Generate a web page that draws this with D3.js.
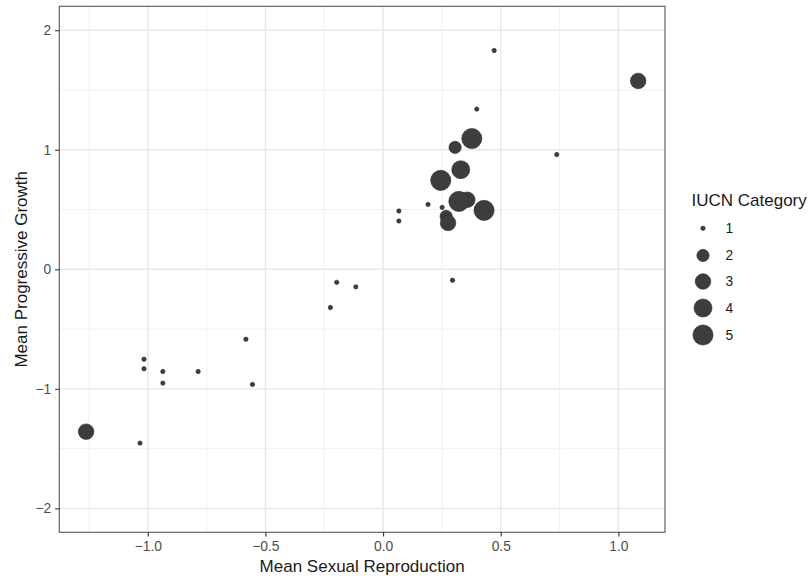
<!DOCTYPE html>
<html>
<head>
<meta charset="utf-8">
<script src="https://cdn.jsdelivr.net/npm/d3@7"></script>
<style>
  body { margin: 0; background: #fff; }
  svg { display: block; font-family: "Liberation Sans", Arial, Helvetica, sans-serif; }
</style>
</head>
<body>
<svg id="chart" width="810" height="576"></svg>
<script>
// ---- data ----
const sexualReproduction = [0.472, 1.084, 0.398, 0.377, 0.306, 0.738, 0.330, 0.245, 0.358, 0.322, 0.429, 0.191, 0.251, 0.067, 0.067, 0.268, 0.276, -0.197, -0.116, -0.224, 0.295, -1.016, -1.016, -0.936, -0.936, -0.786, -0.583, -0.555, -1.262, -1.033];
const progressiveGrowth  = [1.830, 1.576, 1.340, 1.094, 1.020, 0.960, 0.833, 0.744, 0.582, 0.568, 0.493, 0.543, 0.518, 0.488, 0.404, 0.443, 0.388, -0.109, -0.147, -0.320, -0.092, -0.752, -0.832, -0.855, -0.952, -0.855, -0.585, -0.963, -1.358, -1.454];
const iucnCategory       = [1, 3, 1, 5, 2, 1, 4, 5, 3, 5, 5, 1, 1, 1, 1, 2, 3, 1, 1, 1, 1, 1, 1, 1, 1, 1, 1, 1, 3, 1];
const legendCategories   = [1, 2, 3, 4, 5];
const xTicks = [-1.0, -0.5, 0.0, 0.5, 1.0];
const xMinorTicks = [-1.25, -0.75, -0.25, 0.25, 0.75];
const yTicks = [-2, -1, 0, 1, 2];
const yMinorTicks = [-1.5, -0.5, 0.5, 1.5];

const points = sexualReproduction.map((x, i) => ({x, y: progressiveGrowth[i], c: iucnCategory[i]}));

// ---- layout ----
const svg = d3.select("#chart");
const panel = {left: 59.3, right: 665, top: 6.3, bottom: 532.3};

const x = d3.scaleLinear().domain([-1.376, 1.198]).range([panel.left, panel.right]);
const y = d3.scaleLinear().domain([-2.2, 2.2]).range([panel.bottom, panel.top]);
// ggplot-like area size scale: size = 1 + 5*sqrt(rescaled value)
const sizeScale = d3.scaleSqrt().domain([0, 4]).range([0, 5]);
const radius = v => (1 + sizeScale(v - 1)) * 1.58 + 0.6;

const g = svg.append("g");

// panel background
g.append("rect").attr("x", panel.left).attr("y", panel.top)
  .attr("width", panel.right - panel.left).attr("height", panel.bottom - panel.top)
  .attr("fill", "#fff");

// minor grid
g.selectAll(".xminor").data(xMinorTicks).join("line")
  .attr("x1", d => x(d)).attr("x2", d => x(d))
  .attr("y1", panel.top).attr("y2", panel.bottom)
  .attr("stroke", "#ebebeb").attr("stroke-width", 0.7);
g.selectAll(".yminor").data(yMinorTicks).join("line")
  .attr("y1", d => y(d)).attr("y2", d => y(d))
  .attr("x1", panel.left).attr("x2", panel.right)
  .attr("stroke", "#ebebeb").attr("stroke-width", 0.7);
// major grid
g.selectAll(".xmajor").data(xTicks).join("line")
  .attr("x1", d => x(d)).attr("x2", d => x(d))
  .attr("y1", panel.top).attr("y2", panel.bottom)
  .attr("stroke", "#e8e8e8").attr("stroke-width", 1.4);
g.selectAll(".ymajor").data(yTicks).join("line")
  .attr("y1", d => y(d)).attr("y2", d => y(d))
  .attr("x1", panel.left).attr("x2", panel.right)
  .attr("stroke", "#e8e8e8").attr("stroke-width", 1.4);

// points
g.selectAll("circle.pt").data(points).join("circle")
  .attr("class", "pt")
  .attr("cx", d => x(d.x)).attr("cy", d => y(d.y))
  .attr("r", d => radius(d.c))
  .attr("fill", "#3d3d3d").attr("stroke", "#2a2a2a").attr("stroke-width", 0.6);

// panel border
g.append("rect").attr("x", panel.left).attr("y", panel.top)
  .attr("width", panel.right - panel.left).attr("height", panel.bottom - panel.top)
  .attr("fill", "none").attr("stroke", "#555").attr("stroke-width", 1.1);

// axes
const xAxis = d3.axisBottom(x).tickValues(xTicks).tickFormat(d3.format(".1f"))
  .tickSize(4.2).tickPadding(4.5);
const yAxis = d3.axisLeft(y).tickValues(yTicks).tickFormat(d3.format("d"))
  .tickSize(4.2).tickPadding(4);

const gx = svg.append("g").attr("transform", `translate(0,${panel.bottom})`).call(xAxis);
const gy = svg.append("g").attr("transform", `translate(${panel.left},0)`).call(yAxis);
[gx, gy].forEach(a => {
  a.select(".domain").remove();
  a.selectAll(".tick line").attr("stroke", "#333").attr("stroke-width", 1.1);
  a.selectAll(".tick text").attr("fill", "#4d4d4d")
    .style("font-size", "13.8px").style("font-family", "'Liberation Sans', Arial, sans-serif");
});

// axis titles
svg.append("text").attr("x", (panel.left + panel.right) / 2).attr("y", 572)
  .attr("text-anchor", "middle").style("font-size", "17px").attr("fill", "#1a1a1a")
  .text("Mean Sexual Reproduction");
svg.append("text")
  .attr("transform", `translate(27,${(panel.top + panel.bottom) / 2}) rotate(-90)`)
  .attr("text-anchor", "middle").style("font-size", "17px").attr("fill", "#1a1a1a")
  .text("Mean Progressive Growth");

// legend
const legend = svg.append("g");
legend.append("text").attr("x", 691.5).attr("y", 206)
  .style("font-size", "17px").attr("fill", "#1a1a1a").text("IUCN Category");
const legendY = [228.3, 255.5, 281.5, 308, 335];
const rows = legend.selectAll("g.row").data(legendCategories).join("g")
  .attr("transform", (d, i) => `translate(0,${legendY[i]})`);
rows.append("circle").attr("cx", 703).attr("cy", 0).attr("r", d => radius(d))
  .attr("fill", "#3d3d3d").attr("stroke", "#2a2a2a").attr("stroke-width", 0.6);
rows.append("text").attr("x", 725.5).attr("y", 0).attr("dy", "0.35em")
  .style("font-size", "13.8px").attr("fill", "#1a1a1a").text(d => d);
</script>
</body>
</html>
